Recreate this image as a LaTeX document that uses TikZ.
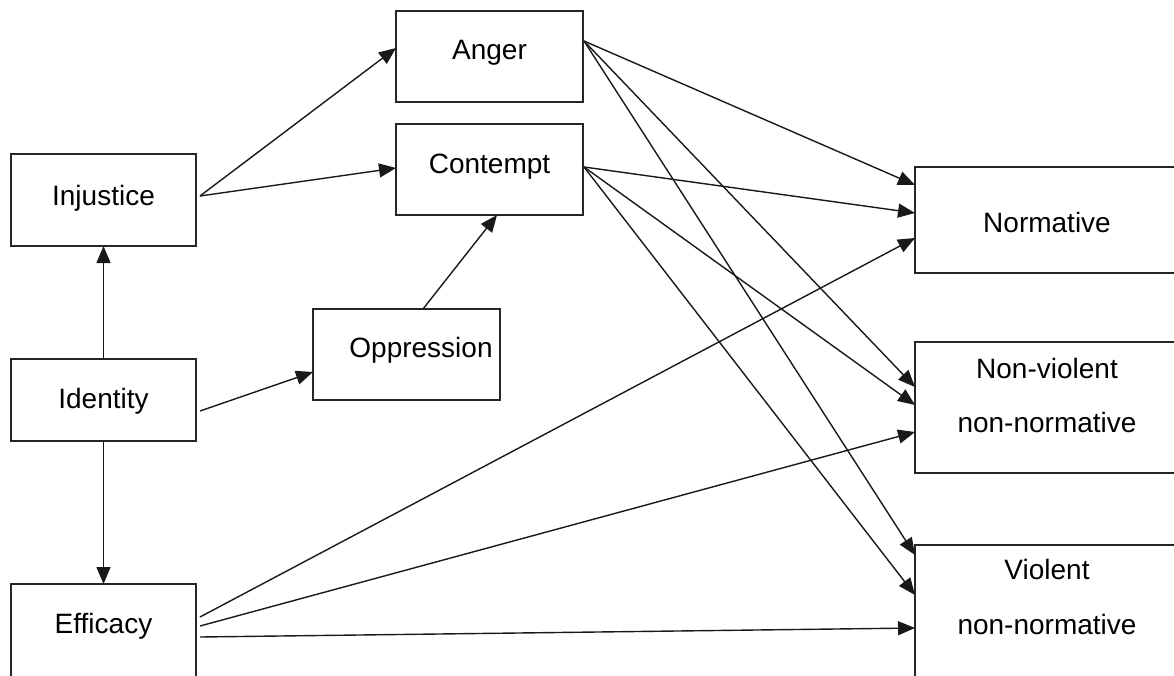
\documentclass[tikz,border=0pt]{standalone}
\usepackage{fontspec}
\setmainfont{Liberation Sans}
\usetikzlibrary{arrows.meta,calc}

\begin{document}
\begin{tikzpicture}[x=1pt,y=-1pt,
  box/.style={draw=black!85, line width=1.6pt, rectangle, anchor=north west,
              inner sep=0pt, outer sep=0pt},
  lbl/.style={anchor=base, inner sep=0pt, font=\fontsize{28}{33}\selectfont},
  arr/.style={draw=black!90, line width=1.4pt, -{Triangle[length=17pt,width=14pt]}},
]
\useasboundingbox (0,0) rectangle (1174,675);
\clip (0,0) rectangle (1174,675);

% boxes
\node[box, minimum width=185pt, minimum height=92pt]  (inj) at (11,154)  {};
\node[box, minimum width=185pt, minimum height=82pt]  (idn) at (11,359)  {};
\node[box, minimum width=185pt, minimum height=110pt] (eff) at (11,584)  {};
\node[box, minimum width=187pt, minimum height=91pt]  (ang) at (396,11)  {};
\node[box, minimum width=187pt, minimum height=91pt]  (con) at (396,124) {};
\node[box, minimum width=187pt, minimum height=91pt]  (opp) at (313,309) {};
\node[box, minimum width=280pt, minimum height=106pt] (nor) at (915,167) {};
\node[box, minimum width=280pt, minimum height=131pt] (nvn) at (915,342) {};
\node[box, minimum width=280pt, minimum height=150pt] (vnn) at (915,545) {};

% labels
\node[lbl] (tinj) at (103.5,205) {Injustice};
\node[lbl] (tidn) at (103.5,408) {Identity};
\node[lbl] (teff) at (103.5,633) {Efficacy};
\node[lbl] (tang) at (489.5,59)  {Anger};
\node[lbl] (tcon) at (489.5,173) {Contempt};
\node[lbl] (topp) at (421,357)   {Oppression};
\node[lbl] (tnor) at (1047,232)  {Normative};
\node[lbl] (tnv1) at (1047,378)  {Non-violent};
\node[lbl] (tnv2) at (1047,432)  {non-normative};
\node[lbl] (tvn1) at (1047,579)  {Violent};
\node[lbl] (tvn2) at (1047,634)  {non-normative};

% identity to injustice / efficacy
\draw[arr] (idn.north) -- (inj.south);
\draw[arr] (idn.south) -- (eff.north);

% injustice to emotions
\draw[arr] ($(inj.north east)+(4,42)$) -- ($(ang.north west)+(0,37)$);
\draw[arr] ($(inj.north east)+(4,42)$) -- ($(con.north west)+(0,44)$);

% identity to oppression, oppression to contempt
\draw[arr] ($(idn.north east)+(4,52)$) -- ($(opp.north west)+(0,63)$);
\draw[arr] ($(opp.north west)+(110,0)$) -- ($(con.south west)+(101,0)$);

% anger to actions
\draw[arr] ($(ang.north east)+(1,30)$) -- ($(nor.north west)+(0,18)$);
\draw[arr] ($(ang.north east)+(1,30)$) -- ($(nvn.north west)+(0,45)$);
\draw[arr] ($(ang.north east)+(1,30)$) -- ($(vnn.north west)+(0,10)$);

% contempt to actions
\draw[arr] ($(con.north east)+(1,43)$) -- ($(nor.north west)+(0,46)$);
\draw[arr] ($(con.north east)+(1,43)$) -- ($(nvn.north west)+(0,63)$);
\draw[arr] ($(con.north east)+(1,43)$) -- ($(vnn.north west)+(0,50)$);

% efficacy to actions
\draw[arr] ($(eff.north east)+(4,33)$) -- ($(nor.north west)+(0,71)$);
\draw[arr] ($(eff.north east)+(4,42)$) -- ($(nvn.north west)+(0,90)$);
\draw[arr] ($(eff.north east)+(4,53)$) -- ($(vnn.north west)+(0,83)$);
\end{tikzpicture}
\end{document}
